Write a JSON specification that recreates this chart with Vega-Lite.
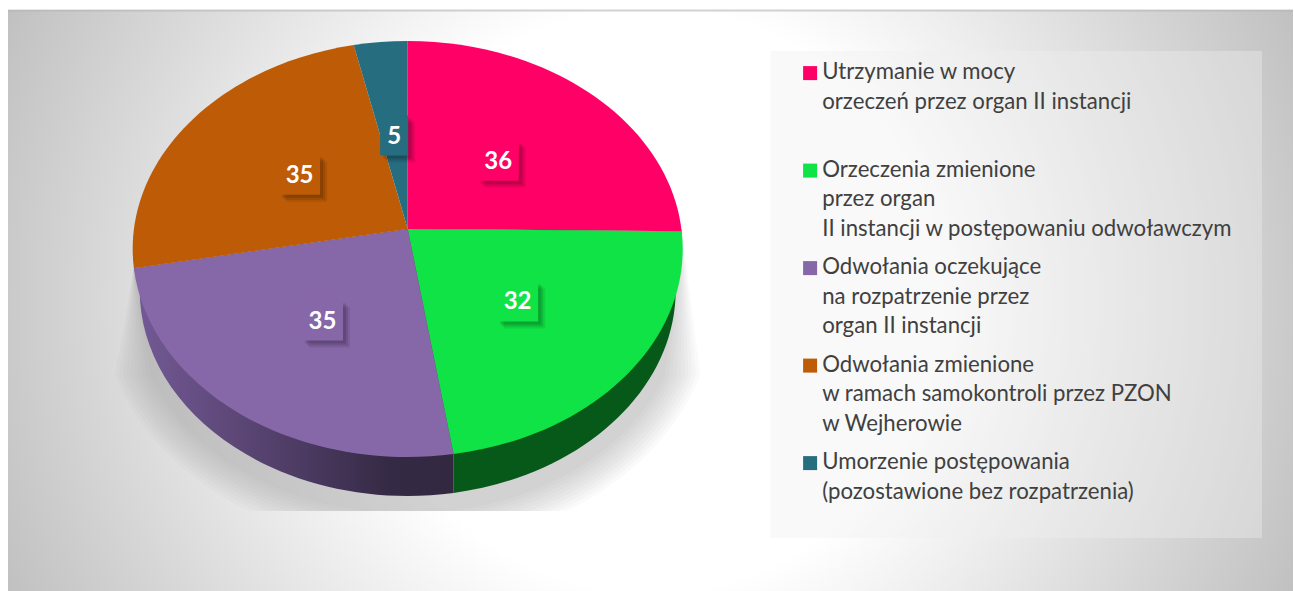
{
"$schema":"https://vega.github.io/schema/vega-lite/v6.json",
"width":1294,"height":591,"padding":0,"autosize":{"type":"fit","contains":"padding"},
"background":"#ffffff",
"view":{"stroke":null},
"config":{"font":"Lato"},
"datasets":{"slices":[
{"nazwa":"Utrzymanie w mocy|orzeczeń przez organ II instancji","liczba":36,"kolejnosc":1},
{"nazwa":"Orzeczenia zmienione|przez organ|II instancji w postępowaniu odwoławczym","liczba":32,"kolejnosc":2},
{"nazwa":"Odwołania oczekujące|na rozpatrzenie przez|organ II instancji","liczba":35,"kolejnosc":3},
{"nazwa":"Odwołania zmienione|w ramach samokontroli przez PZON|w Wejherowie","liczba":35,"kolejnosc":4},
{"nazwa":"Umorzenie postępowania|(pozostawione bez rozpatrzenia)","liczba":5,"kolejnosc":5}
]},
"data":{"name":"slices"},
"transform":[
{"joinaggregate":[{"op":"sum","field":"liczba","as":"suma"}]},
{"stack":"liczba","sort":[{"field":"kolejnosc","order":"ascending"}],"as":["s0","s1"],"groupby":[]},
{"calculate":"2*PI*datum.s0/datum.suma","as":"t0"},
{"calculate":"2*PI*datum.s1/datum.suma","as":"t1"},
{"calculate":"(datum.t0+datum.t1)/2","as":"tm"},
{"calculate":"-208*cos(datum.t0)-20*pow(sin(datum.t0),2)","as":"y0"},
{"calculate":"-208*cos(datum.t1)-20*pow(sin(datum.t1),2)","as":"y1"},
{"calculate":"-208*cos(datum.tm)-20*pow(sin(datum.tm),2)","as":"ym"},
{"calculate":"(sin(datum.t0)<0?-1:1)*275*sqrt(max(0,1-pow(datum.y0/208,2)))","as":"x0"},
{"calculate":"(sin(datum.t1)<0?-1:1)*275*sqrt(max(0,1-pow(datum.y1/208,2)))","as":"x1"},
{"calculate":"(sin(datum.tm)<0?-1:1)*275*sqrt(max(0,1-pow(datum.ym/208,2)))","as":"xm"},
{"calculate":"round(datum.x0*10)/10+','+round(datum.y0*10)/10","as":"p0"},
{"calculate":"round(datum.x1*10)/10+','+round(datum.y1*10)/10","as":"p1"},
{"calculate":"'M0,-20 L'+datum.p0+' A275,208 0 0 1 '+datum.p1+' Z'","as":"klin"},
{"calculate":"max(-268,min(268,datum.x0))","as":"bx0"},
{"calculate":"max(-268,min(268,datum.x1))","as":"bx1"},
{"calculate":"41+206*sqrt(max(0,1-pow(datum.bx0/268,2)))","as":"by0"},
{"calculate":"41+206*sqrt(max(0,1-pow(datum.bx1/268,2)))","as":"by1"},
{"calculate":"'M'+round(datum.bx0*10)/10+','+round(datum.by0*10)/10+' A268,206 0 0 1 '+round(datum.bx1*10)/10+','+round(datum.by1*10)/10+' L'+datum.p1+' L0,-20 L'+datum.p0+' Z'","as":"sciana"},
{"calculate":"0.5*datum.xm","as":"lx"},
{"calculate":"-20+0.5*(datum.ym+20)","as":"ly"},
{"calculate":"datum.liczba>=10?'M-20.5,-20 H20.5 V20 H-20.5 Z':'M-14,-20 H14 V20 H-14 Z'","as":"ramka"}
],
"layer":[
{"data":{"values":[{"panel":"tlo"}]},"transform":[],
 "mark":{"type":"rect","fill":{"gradient":"radial","x1":0.5,"y1":0.5,"x2":0.5,"y2":0.5,"r1":0,"r2":0.552,"stops":[{"offset":0,"color":"#ffffff"},{"offset":0.41,"color":"#ffffff"},{"offset":1,"color":"#c0c0c0"}]}},
 "encoding":{"x":{"datum":-400,"type":"quantitative","axis":null,"scale":{"domain":[-408,886],"nice":false,"zero":false}},"x2":{"datum":886},"y":{"datum":-239,"type":"quantitative","axis":null,"scale":{"domain":[-249,342],"reverse":true,"nice":false,"zero":false}},"y2":{"datum":342}}},
{"data":{"values":[{"panel":"linia"}]},"transform":[],
 "mark":{"type":"rule","color":"#b4b4b4","opacity":0.6,"strokeWidth":2},
 "encoding":{"x":{"datum":-400,"type":"quantitative","axis":null},"x2":{"datum":886},"y":{"datum":-238.5,"type":"quantitative","axis":null}}},
{"data":{"values":[{"warstwa":1},{"warstwa":2},{"warstwa":3},{"warstwa":4},{"warstwa":5},{"warstwa":6},{"warstwa":7},{"warstwa":8},{"warstwa":9},{"warstwa":10}]},
 "transform":[
 {"calculate":"270+3.6*datum.warstwa","as":"R"},
 {"calculate":"206+3.6*datum.warstwa","as":"S"},
 {"calculate":"round(10*datum.R*sqrt(1-pow(71/datum.S,2)))/10","as":"xl"},
 {"calculate":"round(10*datum.R*sqrt(1-pow(207/datum.S,2)))/10","as":"c"},
 {"calculate":"'M-274,20 L-'+datum.xl+',126 A'+datum.R+','+datum.S+' 0 0 0 -'+datum.c+',262 L'+datum.c+',262 A'+datum.R+','+datum.S+' 0 0 0 '+datum.xl+',126 L274,-20 Z'","as":"cien"}
 ],
 "mark":{"type":"point","filled":true,"opacity":0.045,"size":4,"strokeWidth":0,"fill":"#808080"},
 "encoding":{"x":{"datum":0,"type":"quantitative","axis":null},"y":{"datum":0,"type":"quantitative","axis":null},"shape":{"field":"cien","type":"nominal","scale":null}}},
{"transform":[{"filter":"datum.kolejnosc==3"}],
 "mark":{"type":"point","filled":true,"opacity":1,"size":4,"strokeWidth":0,
  "fill":{"gradient":"linear","x1":0,"y1":0,"x2":1,"y2":0,"stops":[{"offset":0,"color":"#745a96"},{"offset":0.45,"color":"#523f6a"},{"offset":0.8,"color":"#352a45"},{"offset":1,"color":"#332840"}]}},
 "encoding":{"x":{"datum":0,"type":"quantitative","axis":null},"y":{"datum":0,"type":"quantitative","axis":null},"shape":{"field":"sciana","type":"nominal","scale":null}}},
{"transform":[{"filter":"datum.kolejnosc==2"}],
 "mark":{"type":"point","filled":true,"opacity":1,"size":4,"strokeWidth":0,"fill":"#07591a"},
 "encoding":{"x":{"datum":0,"type":"quantitative","axis":null},"y":{"datum":0,"type":"quantitative","axis":null},"shape":{"field":"sciana","type":"nominal","scale":null}}},
{"mark":{"type":"point","filled":true,"opacity":1,"size":4,"strokeWidth":0},
 "encoding":{"x":{"datum":0,"type":"quantitative","axis":null},"y":{"datum":0,"type":"quantitative","axis":null},"shape":{"field":"klin","type":"nominal","scale":null},
 "color":{"field":"nazwa","type":"nominal","scale":{"domain":["Utrzymanie w mocy|orzeczeń przez organ II instancji","Orzeczenia zmienione|przez organ|II instancji w postępowaniu odwoławczym","Odwołania oczekujące|na rozpatrzenie przez|organ II instancji","Odwołania zmienione|w ramach samokontroli przez PZON|w Wejherowie","Umorzenie postępowania|(pozostawione bez rozpatrzenia)"],"range":["#ff0066","#0fe345","#8667a8","#bd5b06","#276d80"]},
 "legend":{"title":null,"orient":"none","legendX":799,"legendY":62,"padding":0,"rowPadding":15.5,"symbolType":"square","symbolSize":196,"symbolOpacity":1,"symbolStrokeWidth":0,"labelFont":"Lato","labelFontSize":22.2,"labelColor":"#404040","labelLimit":0,"labelOffset":1,"labelBaseline":"top",
 "labelExpr":"split(length(split(datum.label,'|'))<3?datum.label+'| ':datum.label,'|')",
 "encoding":{"labels":{"lineHeight":{"value":29.5},"dy":{"value":-12}}}}}}},
{"data":{"values":[{"panel":"legenda"}]},"transform":[],
 "mark":{"type":"rect","fill":"#efefef","opacity":0.38},
 "encoding":{"x":{"datum":363,"type":"quantitative","axis":null},"x2":{"datum":855},"y":{"datum":-198,"type":"quantitative","axis":null},"y2":{"datum":289}}},
{"mark":{"type":"point","filled":true,"opacity":0.08,"size":4,"strokeWidth":0,"fill":"#000000","xOffset":7,"yOffset":7},
 "encoding":{"x":{"field":"lx","type":"quantitative","axis":null},"y":{"field":"ly","type":"quantitative","axis":null},"shape":{"field":"ramka","type":"nominal","scale":null}}},
{"mark":{"type":"point","filled":true,"opacity":0.1,"size":4,"strokeWidth":0,"fill":"#000000","xOffset":5,"yOffset":5},
 "encoding":{"x":{"field":"lx","type":"quantitative","axis":null},"y":{"field":"ly","type":"quantitative","axis":null},"shape":{"field":"ramka","type":"nominal","scale":null}}},
{"mark":{"type":"point","filled":true,"opacity":0.12,"size":4,"strokeWidth":0,"fill":"#000000","xOffset":3,"yOffset":3},
 "encoding":{"x":{"field":"lx","type":"quantitative","axis":null},"y":{"field":"ly","type":"quantitative","axis":null},"shape":{"field":"ramka","type":"nominal","scale":null}}},
{"mark":{"type":"point","filled":true,"opacity":1,"size":4,"strokeWidth":0},
 "encoding":{"x":{"field":"lx","type":"quantitative","axis":null},"y":{"field":"ly","type":"quantitative","axis":null},"shape":{"field":"ramka","type":"nominal","scale":null},"color":{"field":"nazwa","type":"nominal"}}},
{"mark":{"type":"text","font":"Lato","fontSize":24,"fontWeight":"bold","color":"#ffffff","yOffset":1},
 "encoding":{"x":{"field":"lx","type":"quantitative","axis":null},"y":{"field":"ly","type":"quantitative","axis":null},"text":{"field":"liczba","type":"quantitative"}}}
]
}
